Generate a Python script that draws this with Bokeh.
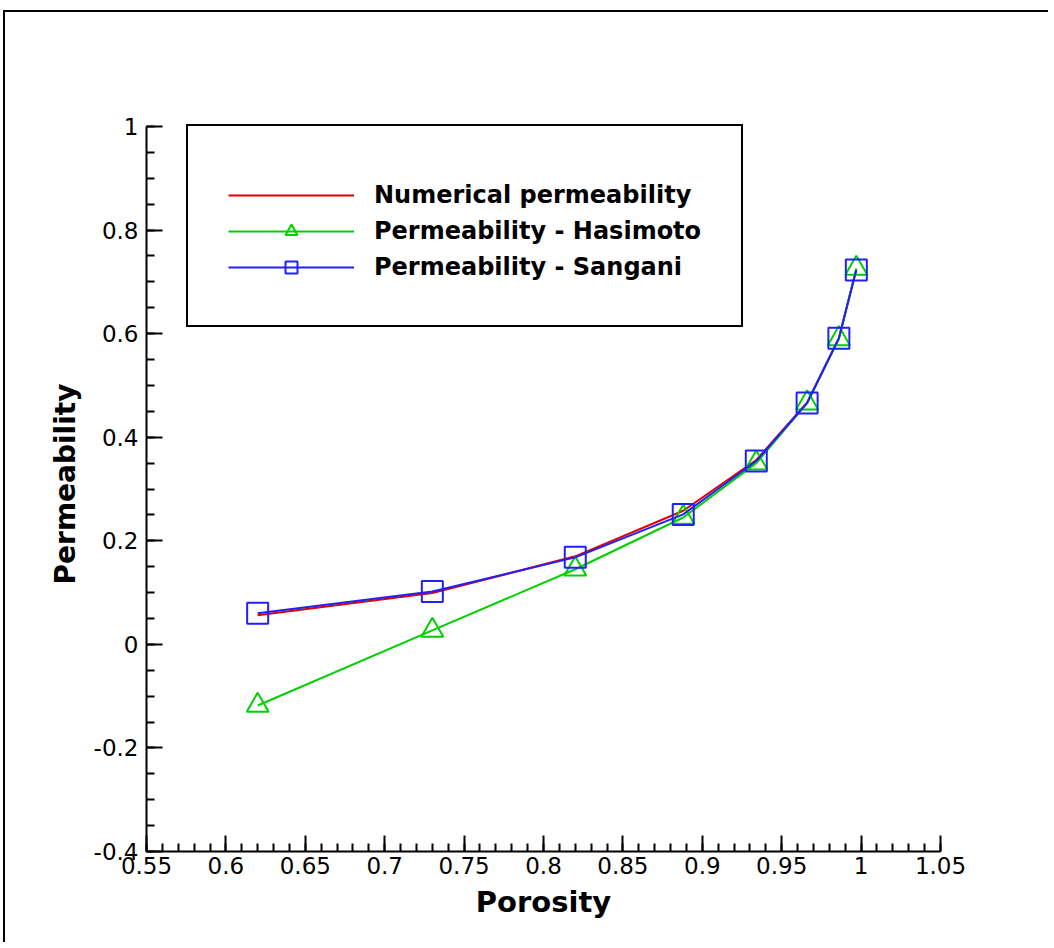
from bokeh.plotting import figure
from bokeh.models import FixedTicker, Legend, LegendItem
from bokeh.embed import file_html
from bokeh.resources import INLINE

# ---- data ----
porosity = [0.62, 0.73, 0.82, 0.888, 0.934, 0.966, 0.986, 0.997]
numerical = [0.056, 0.099, 0.170, 0.258, 0.356, 0.467, 0.591, 0.725]
hasimoto = [-0.118, 0.027, 0.145, 0.245, 0.350, 0.466, 0.590, 0.726]
sangani = [0.060, 0.102, 0.168, 0.251, 0.354, 0.466, 0.591, 0.723]

series_names = ["Numerical permeability", "Permeability - Hasimoto", "Permeability - Sangani"]

x_ticks = [0.55, 0.6, 0.65, 0.7, 0.75, 0.8, 0.85, 0.9, 0.95, 1.0, 1.05]
x_tick_labels = ["0.55", "0.6", "0.65", "0.7", "0.75", "0.8", "0.85", "0.9", "0.95", "1", "1.05"]
y_ticks = [-0.4, -0.2, 0.0, 0.2, 0.4, 0.6, 0.8, 1.0]
y_tick_labels = ["-0.4", "-0.2", "0", "0.2", "0.4", "0.6", "0.8", "1"]

RED = "#e00000"
GREEN = "#00d000"
BLUE = "#2020ff"

# canvas origin at page (5, 12)
OX, OY = 5, 12
W, H = 1047, 934
EXTRA_TOP = 10  # frame extends above the y=1 tick so the legend border is not clipped
FL, FT, FR, FB = 146 - OX, 126 - EXTRA_TOP - OY, 940 - OX, 851 - OY
y_top = 1.0 + EXTRA_TOP * 1.4 / (851 - 126)

p = figure(width=W, height=H, output_backend="svg", toolbar_location=None,
           x_range=(0.55, 1.05), y_range=(-0.4, y_top),
           min_border_left=FL, min_border_right=W - FR,
           min_border_top=FT, min_border_bottom=H - FB)
p.styles = {"position": "relative", "left": f"{OX}px", "top": f"{OY}px",
            "box-shadow": "-2px -2px 0 0 black",
            "clip-path": "inset(-3px 4px 4px -3px)"}
p.outline_line_color = None
p.xgrid.visible = False
p.ygrid.visible = False
p.background_fill_color = "white"
p.border_fill_color = "white"

x_minor = [round(0.55 + 0.01 * i, 2) for i in range(51)]
y_minor = [round(-0.4 + 0.05 * i, 2) for i in range(29)]
p.xaxis.ticker = FixedTicker(ticks=x_ticks, minor_ticks=x_minor)
p.yaxis.ticker = FixedTicker(ticks=y_ticks, minor_ticks=y_minor)
p.xaxis.major_label_overrides = {t: l for t, l in zip(x_ticks, x_tick_labels)}
p.yaxis.major_label_overrides = {t: l for t, l in zip(y_ticks, y_tick_labels)}
p.yaxis.bounds = (-0.4, 1.0)

for ax in (p.xaxis[0], p.yaxis[0]):
    ax.axis_line_width = 2
    ax.axis_line_color = "black"
    ax.major_tick_in = 16
    ax.major_tick_out = 0
    ax.minor_tick_in = 8
    ax.minor_tick_out = 0
    ax.major_tick_line_width = 2
    ax.minor_tick_line_width = 2
    ax.major_tick_line_color = "black"
    ax.minor_tick_line_color = "black"
    ax.major_label_text_font = "DejaVu Sans"
    ax.major_label_text_font_size = "23px"
    ax.major_label_text_color = "black"
    ax.axis_label_text_font = "DejaVu Sans"
    ax.axis_label_text_font_style = "bold"
    ax.axis_label_text_color = "black"

p.xaxis.axis_label = "Porosity"
p.yaxis.axis_label = "Permeability"
p.xaxis.axis_label_text_font_size = "29px"
p.yaxis.axis_label_text_font_size = "28px"
p.xaxis.major_label_standoff = 5
p.yaxis.major_label_standoff = 8
p.xaxis.axis_label_standoff = 8
p.yaxis.axis_label_standoff = 9

r_num = p.line(porosity, numerical, line_color=RED, line_width=2)
r_has_l = p.line(porosity, hasimoto, line_color=GREEN, line_width=2)
r_has_m = p.scatter(porosity, hasimoto, marker="triangle", size=22,
                    line_color=GREEN, line_width=2, fill_color=None)
r_san_l = p.line(porosity, sangani, line_color=BLUE, line_width=2)
r_san_m = p.scatter(porosity, sangani, marker="square", size=21,
                    line_color=BLUE, line_width=2, fill_color=None)

legend = Legend(items=[
    LegendItem(label=series_names[0], renderers=[r_num]),
    LegendItem(label=series_names[1], renderers=[r_has_l, r_has_m]),
    LegendItem(label=series_names[2], renderers=[r_san_l, r_san_m]),
], location=(40, 851 - 327))
legend.title = " "
legend.title_text_font_size = "8px"
legend.title_standoff = 2
legend.margin = 0
legend.padding = 40
legend.spacing = 0
legend.glyph_width = 126
legend.glyph_height = 30
legend.label_height = 36
legend.label_standoff = 20
legend.label_text_font = "DejaVu Sans"
legend.label_text_font_style = "bold"
legend.label_text_font_size = "24px"
legend.label_text_color = "black"
legend.border_line_color = "black"
legend.border_line_alpha = 1
legend.border_line_width = 2
legend.background_fill_color = "white"
legend.background_fill_alpha = 1
p.add_layout(legend, "center")

open("out.html", "w").write(file_html(p, INLINE))
